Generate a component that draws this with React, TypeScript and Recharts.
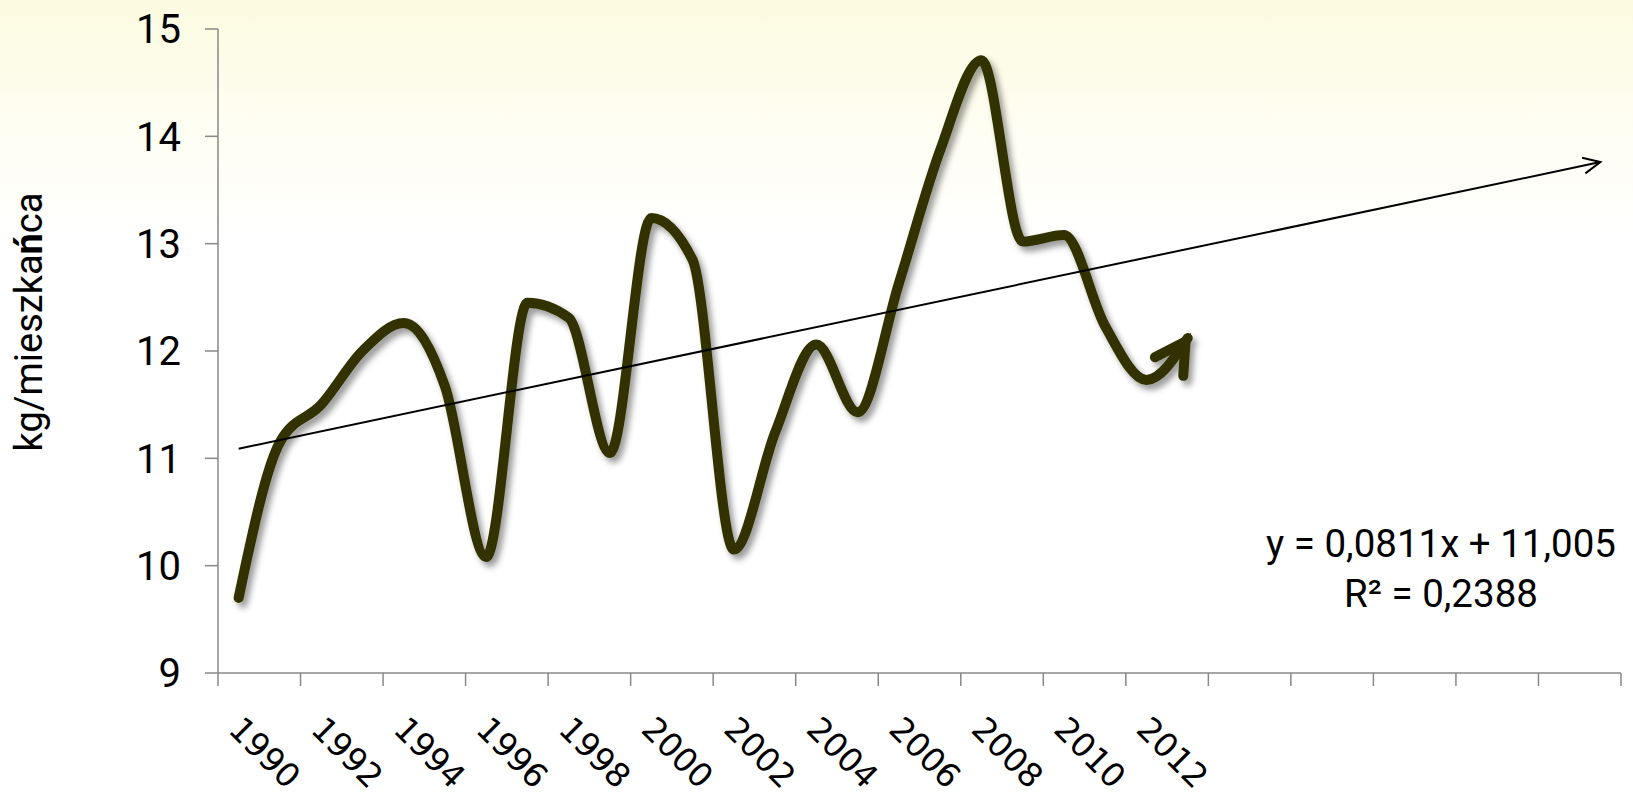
import { LineChart, Line, XAxis, YAxis } from "recharts";

// kg per inhabitant
const years = [
  1990, 1991, 1992, 1993, 1994, 1995, 1996, 1997, 1998, 1999, 2000, 2001,
  2002, 2003, 2004, 2005, 2006, 2007, 2008, 2009, 2010, 2011, 2012, 2013,
];
const consumption = [
  9.7, 11.15, 11.5, 12.0, 12.26, 11.67, 10.08, 12.45, 12.31, 11.05, 13.24, 12.85,
  10.15, 11.24, 12.06, 11.43, 12.63, 13.87, 14.71, 13.02, 13.08, 12.23, 11.73, 12.12,
];

// linear trend (Excel), forecast forward to 2023
const trendYears = [1990, 2023];
const trendValues = [11.09, 13.76];
const equation = ["y = 0,0811x + 11,005", "R² = 0,2388"];

const yTicks = [9, 10, 11, 12, 13, 14, 15];
// tick marks sit between categories, one every two years
const xTickBounds = [
  1989.5, 1991.5, 1993.5, 1995.5, 1997.5, 1999.5, 2001.5, 2003.5, 2005.5,
  2007.5, 2009.5, 2011.5, 2013.5, 2015.5, 2017.5, 2019.5, 2021.5, 2023.5,
];
const xTickLabels = [
  "1990", "1992", "1994", "1996", "1998", "2000",
  "2002", "2004", "2006", "2008", "2010", "2012",
];

const data = years.map((year, i) => ({ year, value: consumption[i] }));
const trendData = trendYears.map((year, i) => ({ year, trend: trendValues[i] }));

const OLIVE = "#333300";

function YearTick(props: any) {
  const { x, y, index } = props;
  const label = xTickLabels[index];
  if (!label) return <g />;
  const ax = x + 9;
  const ay = y + 45;
  return (
    <text
      x={ax}
      y={ay}
      transform={`rotate(45, ${ax}, ${ay})`}
      textAnchor="start"
      fontFamily="'DejaVu Sans', sans-serif"
      fontSize={33}
      fill="#000"
    >
      {label}
    </text>
  );
}

export default function App() {
  return (
    <div
      style={{
        position: "absolute",
        left: 0,
        top: 0,
        width: 1633,
        height: 795,
        background:
          "linear-gradient(to bottom, #fcfbe0 0%, #fefdf0 14%, #ffffff 30%)",
      }}
    >
      <svg width={0} height={0} style={{ position: "absolute" }}>
        <defs>
          <filter id="lineShadow" x="-10%" y="-10%" width="130%" height="130%">
            <feDropShadow dx={4} dy={5} stdDeviation={3} floodColor="#000" floodOpacity={0.4} />
          </filter>
          <marker
            id="bigArrow"
            markerUnits="userSpaceOnUse"
            viewBox="-50 -50 100 100"
            markerWidth={100}
            markerHeight={100}
            refX={0}
            refY={0}
            orient="auto"
            overflow="visible"
          >
            <path
              d="M-34,-17 L-4,0 L-34,17"
              fill="none"
              stroke={OLIVE}
              strokeWidth={10}
              strokeLinecap="round"
            />
          </marker>
          <marker
            id="thinArrow"
            markerUnits="userSpaceOnUse"
            viewBox="-30 -30 60 60"
            markerWidth={60}
            markerHeight={60}
            refX={0}
            refY={0}
            orient="auto"
            overflow="visible"
          >
            <path d="M-17,-8 L0,0 L-17,8" fill="none" stroke="#000" strokeWidth={2} />
          </marker>
        </defs>
      </svg>
      <LineChart
        width={1633}
        height={795}
        margin={{ top: 29, right: 12, bottom: 22, left: 138 }}
      >
        <XAxis
          type="number"
          dataKey="year"
          domain={[1989.5, 2023.5]}
          ticks={xTickBounds}
          interval={0}
          allowDataOverflow
          tick={<YearTick />}
          tickSize={13}
          tickMargin={0}
          stroke="#888"
          strokeWidth={1.5}
          height={100}
        />
        <YAxis
          domain={[9, 15]}
          ticks={yTicks}
          interval={0}
          tickSize={13}
          tickMargin={24}
          stroke="#888"
          strokeWidth={1.5}
          width={80}
          tick={{ fill: "#000", fontSize: 40, fontFamily: "Roboto, sans-serif" }}
        />
        <Line
          data={data}
          dataKey="value"
          type="monotone"
          stroke={OLIVE}
          strokeWidth={10}
          strokeLinecap="round"
          strokeLinejoin="round"
          dot={false}
          activeDot={false}
          markerEnd="url(#bigArrow)"
          filter="url(#lineShadow)"
          isAnimationActive={false}
        />
        <Line
          data={trendData}
          dataKey="trend"
          type="linear"
          stroke="#000"
          strokeWidth={2}
          dot={false}
          activeDot={false}
          markerEnd="url(#thinArrow)"
          isAnimationActive={false}
        />
        <text
          x={42}
          y={322}
          transform="rotate(-90, 42, 322)"
          textAnchor="middle"
          fontFamily="Roboto, sans-serif"
          fontSize={38}
          fill="#000"
        >
          kg/mieszka<tspan fontWeight="bold">ń</tspan>ca
        </text>
        <text
          textAnchor="middle"
          fontFamily="Roboto, sans-serif"
          fontSize={38.5}
          fill="#000"
        >
          <tspan x={1441} y={557}>{equation[0]}</tspan>
          <tspan x={1441} y={607}>{equation[1]}</tspan>
        </text>
      </LineChart>
    </div>
  );
}
